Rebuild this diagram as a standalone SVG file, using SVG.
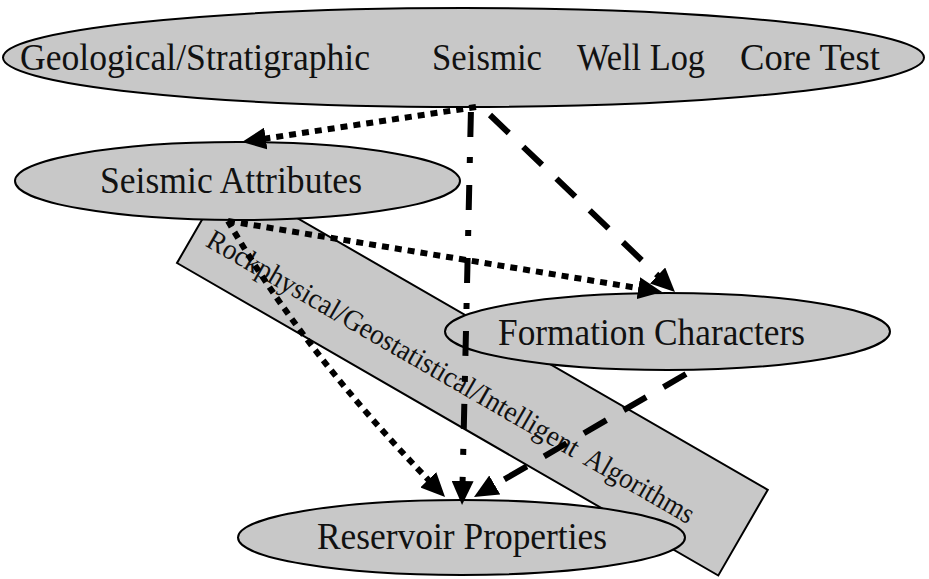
<svg xmlns="http://www.w3.org/2000/svg" width="929" height="579" viewBox="0 0 929 579">
<style>
.node{fill:#c8c8c8;stroke:#000;stroke-width:2}
.lbl{font-family:"Liberation Serif","Times New Roman",serif;font-size:37px;fill:#111}
.alg{font-family:"Liberation Serif","Times New Roman",serif;font-size:29px;fill:#111}
.c{fill:none;stroke:#000;stroke-width:6;stroke-linecap:butt}
.dot{stroke-dasharray:7 6}
.dash{stroke-dasharray:26 20}
.dd{stroke-dasharray:25 20 6 22;stroke-dashoffset:-4}
</style>
<defs>
<marker id="ah" markerUnits="userSpaceOnUse" markerWidth="24" markerHeight="22" refX="4" refY="11" orient="auto" viewBox="0 0 24 22">
<path d="M0,0 L24,11 L0,22 z" fill="#000"/>
</marker>
</defs>
<rect width="929" height="579" fill="#fff"/>
<g id="sources">
<ellipse class="node" cx="463.5" cy="57.5" rx="460.5" ry="49.5"/>
<text class="lbl" x="20" y="70" textLength="350" lengthAdjust="spacingAndGlyphs">Geological/Stratigraphic</text>
<text class="lbl" x="432" y="70" textLength="110" lengthAdjust="spacingAndGlyphs">Seismic</text>
<text class="lbl" x="577" y="70" textLength="128" lengthAdjust="spacingAndGlyphs">Well Log</text>
<text class="lbl" x="740" y="70" textLength="140" lengthAdjust="spacingAndGlyphs">Core Test</text>
</g>
<g id="algorithms" transform="translate(177,263) rotate(30)">
<rect class="node" x="0" y="-99" width="625" height="99"/>
<text class="alg" x="15" y="-29" textLength="425" lengthAdjust="spacingAndGlyphs">Rockphysical/Geostatistical/Intelligent</text>
<text class="alg" x="451" y="-29" textLength="122" lengthAdjust="spacingAndGlyphs">Algorithms</text>
</g>
<g id="seismic-attributes">
<ellipse class="node" cx="237.5" cy="181" rx="222.5" ry="39"/>
<text class="lbl" x="100" y="193" textLength="262" lengthAdjust="spacingAndGlyphs">Seismic Attributes</text>
</g>
<g id="formation-characters">
<ellipse class="node" cx="667.5" cy="331.5" rx="222.5" ry="38.5"/>
<text class="lbl" x="498" y="345" textLength="307" lengthAdjust="spacingAndGlyphs">Formation Characters</text>
</g>
<g id="reservoir-properties">
<ellipse class="node" cx="461.5" cy="537.5" rx="223.5" ry="37.5"/>
<text class="lbl" x="317" y="549" textLength="290" lengthAdjust="spacingAndGlyphs">Reservoir Properties</text>
</g>
<g id="connectors">
<line class="c dot" x1="476" y1="107" x2="261.8" y2="139.1" marker-end="url(#ah)"/>
<line class="c dd" x1="471" y1="108" x2="462.5" y2="485" marker-end="url(#ah)"/>
<line class="c dash" x1="490" y1="115" x2="660.5" y2="278.2" marker-end="url(#ah)"/>
<line class="c dot" x1="228" y1="221" x2="642.3" y2="288.8" marker-end="url(#ah)"/>
<path class="c dot" d="M228,221 Q302,350 431.1,482.6" marker-end="url(#ah)"/>
<line class="c dash" x1="686" y1="374" x2="491.3" y2="487" marker-end="url(#ah)"/>
</g>
</svg>
